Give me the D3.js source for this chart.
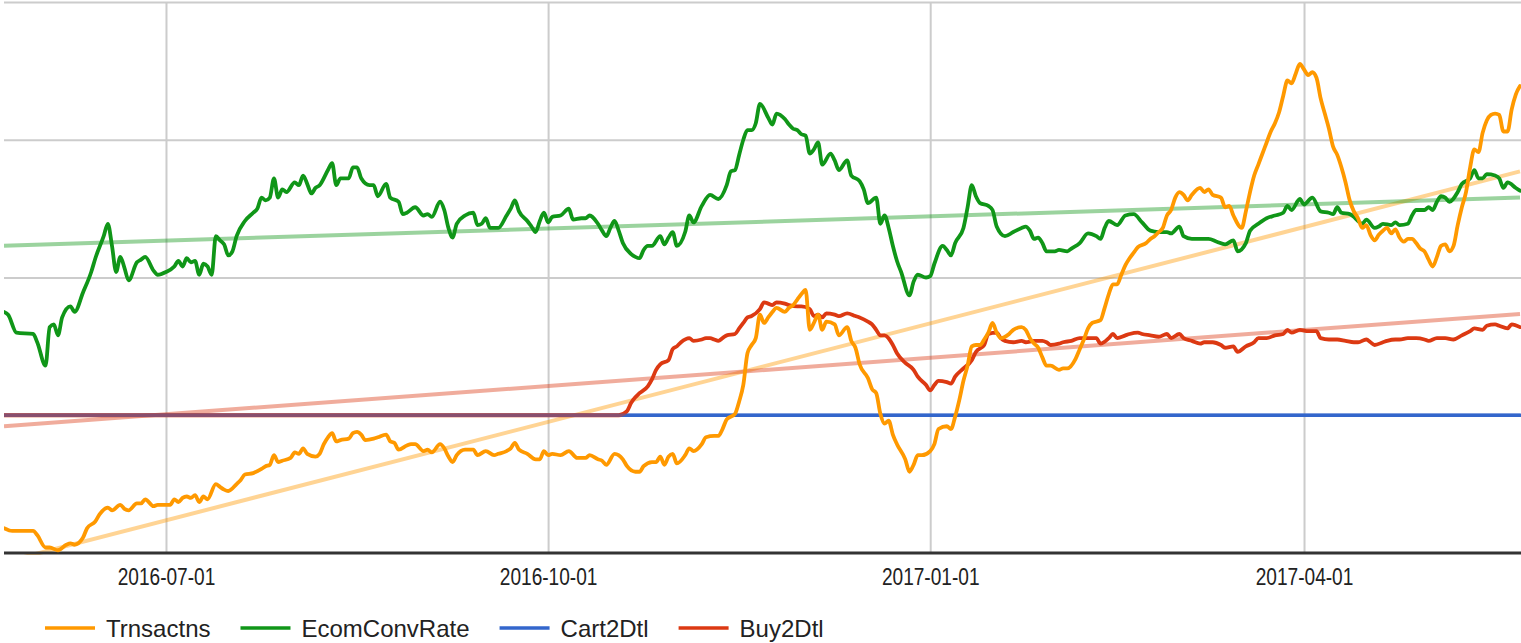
<!DOCTYPE html>
<html>
<head>
<meta charset="utf-8">
<script src="https://cdn.jsdelivr.net/npm/d3@7"></script>
<style>
  html, body { margin: 0; padding: 0; background: #ffffff; }
  svg { display: block; }
</style>
</head>
<body>
<svg id="chart" width="1521" height="643"></svg>
<script>
// ---- data: daily ratios (vertex samples), one array per series ----
const seriesNames = ["Trnsactns", "EcomConvRate", "Cart2Dtl", "Buy2Dtl"];
const seriesColors = ["#ff9900", "#109618", "#3366cc", "#dc3912"];
const xTickLabels = ["2016-07-01", "2016-10-01", "2017-01-01", "2017-04-01"];
const yGridValues = [0, 1, 2, 3, 4];
const dateSpan = ["2016-05-23", "2017-05-23"];

const trnsactns = [
  ["2016-05-23",0.18],["2016-05-25",0.16],["2016-05-30",0.16],["2016-05-31",0.13],["2016-06-02",0.04],
  ["2016-06-03",0.04],["2016-06-05",0.02],["2016-06-07",0.06],["2016-06-08",0.07],["2016-06-09",0.06],
  ["2016-06-11",0.11],["2016-06-12",0.18],["2016-06-14",0.23],["2016-06-15",0.28],["2016-06-17",0.33],
  ["2016-06-18",0.31],["2016-06-20",0.35],["2016-06-21",0.32],["2016-06-22",0.31],["2016-06-24",0.36],
  ["2016-06-25",0.36],["2016-06-26",0.39],["2016-06-28",0.34],["2016-06-29",0.35],["2016-07-01",0.35],
  ["2016-07-02",0.35],["2016-07-03",0.39],["2016-07-04",0.37],["2016-07-05",0.40],["2016-07-06",0.41],
  ["2016-07-07",0.40],["2016-07-08",0.42],["2016-07-09",0.37],["2016-07-10",0.41],["2016-07-11",0.39],
  ["2016-07-13",0.50],["2016-07-14",0.48],["2016-07-15",0.46],["2016-07-16",0.45],["2016-07-18",0.50],
  ["2016-07-19",0.53],["2016-07-20",0.57],["2016-07-22",0.58],["2016-07-24",0.61],["2016-07-25",0.63],
  ["2016-07-26",0.64],["2016-07-27",0.71],["2016-07-28",0.66],["2016-07-29",0.67],["2016-07-31",0.69],
  ["2016-08-01",0.73],["2016-08-02",0.72],["2016-08-03",0.76],["2016-08-04",0.72],["2016-08-06",0.70],
  ["2016-08-07",0.72],["2016-08-08",0.79],["2016-08-09",0.84],["2016-08-10",0.87],["2016-08-11",0.81],
  ["2016-08-12",0.82],["2016-08-14",0.83],["2016-08-15",0.87],["2016-08-16",0.88],["2016-08-17",0.86],
  ["2016-08-18",0.82],["2016-08-20",0.83],["2016-08-21",0.84],["2016-08-23",0.86],["2016-08-24",0.81],
  ["2016-08-25",0.80],["2016-08-26",0.75],["2016-08-28",0.78],["2016-08-29",0.79],["2016-08-30",0.79],
  ["2016-09-01",0.74],["2016-09-02",0.75],["2016-09-03",0.73],["2016-09-05",0.79],["2016-09-06",0.76],
  ["2016-09-07",0.70],["2016-09-08",0.66],["2016-09-09",0.71],["2016-09-11",0.75],["2016-09-13",0.75],
  ["2016-09-14",0.71],["2016-09-16",0.74],["2016-09-18",0.71],["2016-09-19",0.72],["2016-09-21",0.74],
  ["2016-09-22",0.76],["2016-09-23",0.80],["2016-09-24",0.75],["2016-09-26",0.72],["2016-09-28",0.68],
  ["2016-09-29",0.68],["2016-09-30",0.74],["2016-10-01",0.71],["2016-10-02",0.72],["2016-10-04",0.71],
  ["2016-10-06",0.74],["2016-10-08",0.69],["2016-10-10",0.69],["2016-10-11",0.71],["2016-10-13",0.68],
  ["2016-10-14",0.67],["2016-10-15",0.64],["2016-10-17",0.72],["2016-10-19",0.68],["2016-10-20",0.63],
  ["2016-10-22",0.59],["2016-10-23",0.59],["2016-10-24",0.63],["2016-10-26",0.66],["2016-10-27",0.66],
  ["2016-10-28",0.70],["2016-10-29",0.64],["2016-10-30",0.70],["2016-10-31",0.72],["2016-11-01",0.65],
  ["2016-11-03",0.71],["2016-11-04",0.76],["2016-11-05",0.74],["2016-11-07",0.79],["2016-11-08",0.84],
  ["2016-11-10",0.85],["2016-11-11",0.85],["2016-11-12",0.90],["2016-11-13",0.97],["2016-11-15",1.01],
  ["2016-11-16",1.10],["2016-11-17",1.22],["2016-11-18",1.45],["2016-11-19",1.51],["2016-11-20",1.56],
  ["2016-11-21",1.73],["2016-11-22",1.67],["2016-11-23",1.71],["2016-11-24",1.75],["2016-11-25",1.78],
  ["2016-11-27",1.75],["2016-11-28",1.78],["2016-11-29",1.80],["2016-11-30",1.84],["2016-12-01",1.88],
  ["2016-12-02",1.91],["2016-12-03",1.62],["2016-12-04",1.67],["2016-12-05",1.73],["2016-12-06",1.62],
  ["2016-12-07",1.68],["2016-12-09",1.66],["2016-12-10",1.58],["2016-12-12",1.64],["2016-12-13",1.54],
  ["2016-12-14",1.49],["2016-12-15",1.37],["2016-12-17",1.27],["2016-12-18",1.19],["2016-12-19",1.16],
  ["2016-12-20",1.01],["2016-12-21",0.94],["2016-12-22",0.96],["2016-12-23",0.86],["2016-12-24",0.79],
  ["2016-12-26",0.68],["2016-12-27",0.59],["2016-12-28",0.64],["2016-12-29",0.71],["2016-12-30",0.71],
  ["2017-01-01",0.74],["2017-01-02",0.79],["2017-01-03",0.90],["2017-01-05",0.92],["2017-01-06",0.90],
  ["2017-01-07",0.99],["2017-01-08",1.11],["2017-01-09",1.25],["2017-01-10",1.36],["2017-01-11",1.50],
  ["2017-01-12",1.51],["2017-01-13",1.51],["2017-01-14",1.55],["2017-01-15",1.60],["2017-01-16",1.67],
  ["2017-01-17",1.60],["2017-01-18",1.56],["2017-01-20",1.59],["2017-01-21",1.62],["2017-01-23",1.64],
  ["2017-01-24",1.62],["2017-01-25",1.56],["2017-01-26",1.52],["2017-01-27",1.49],["2017-01-28",1.42],
  ["2017-01-29",1.36],["2017-01-30",1.36],["2017-02-01",1.33],["2017-02-02",1.34],["2017-02-03",1.34],
  ["2017-02-05",1.41],["2017-02-06",1.48],["2017-02-07",1.55],["2017-02-08",1.63],["2017-02-09",1.67],
  ["2017-02-11",1.69],["2017-02-12",1.78],["2017-02-13",1.88],["2017-02-14",1.95],["2017-02-15",1.95],
  ["2017-02-16",2.02],["2017-02-17",2.09],["2017-02-18",2.14],["2017-02-19",2.18],["2017-02-20",2.22],
  ["2017-02-22",2.25],["2017-02-23",2.28],["2017-02-24",2.30],["2017-02-25",2.33],["2017-02-26",2.36],
  ["2017-02-27",2.45],["2017-02-28",2.49],["2017-03-01",2.58],["2017-03-02",2.62],["2017-03-03",2.60],
  ["2017-03-04",2.56],["2017-03-05",2.60],["2017-03-07",2.65],["2017-03-08",2.62],["2017-03-09",2.64],
  ["2017-03-10",2.60],["2017-03-12",2.58],["2017-03-13",2.51],["2017-03-14",2.52],["2017-03-15",2.45],
  ["2017-03-17",2.36],["2017-03-18",2.48],["2017-03-19",2.62],["2017-03-20",2.74],["2017-03-21",2.82],
  ["2017-03-22",2.90],["2017-03-23",2.98],["2017-03-24",3.06],["2017-03-25",3.12],["2017-03-26",3.20],
  ["2017-03-27",3.32],["2017-03-28",3.43],["2017-03-29",3.41],["2017-03-30",3.48],["2017-03-31",3.55],
  ["2017-04-01",3.51],["2017-04-02",3.47],["2017-04-03",3.49],["2017-04-04",3.45],["2017-04-05",3.30],
  ["2017-04-06",3.19],["2017-04-07",3.08],["2017-04-08",2.95],["2017-04-09",2.89],["2017-04-10",2.80],
  ["2017-04-11",2.69],["2017-04-12",2.56],["2017-04-13",2.48],["2017-04-14",2.43],["2017-04-15",2.36],
  ["2017-04-16",2.38],["2017-04-17",2.31],["2017-04-18",2.27],["2017-04-19",2.31],["2017-04-20",2.34],
  ["2017-04-21",2.36],["2017-04-22",2.32],["2017-04-23",2.35],["2017-04-24",2.29],["2017-04-25",2.26],
  ["2017-04-26",2.28],["2017-04-27",2.28],["2017-04-28",2.25],["2017-04-29",2.21],["2017-04-30",2.19],
  ["2017-05-01",2.13],["2017-05-02",2.08],["2017-05-03",2.15],["2017-05-04",2.23],["2017-05-05",2.24],
  ["2017-05-06",2.19],["2017-05-07",2.23],["2017-05-08",2.38],["2017-05-09",2.51],["2017-05-10",2.62],
  ["2017-05-11",2.80],["2017-05-12",2.93],["2017-05-13",2.91],["2017-05-14",3.05],["2017-05-15",3.14],
  ["2017-05-16",3.18],["2017-05-17",3.19],["2017-05-18",3.18],["2017-05-19",3.06],["2017-05-20",3.06],
  ["2017-05-21",3.22],["2017-05-22",3.33],["2017-05-23",3.39]
];

const ecomConvRate = [
  ["2016-05-23",1.75],["2016-05-24",1.73],["2016-05-26",1.60],["2016-05-30",1.59],["2016-05-31",1.53],
  ["2016-06-02",1.36],["2016-06-03",1.64],["2016-06-04",1.66],["2016-06-05",1.58],["2016-06-06",1.71],
  ["2016-06-08",1.79],["2016-06-09",1.75],["2016-06-11",1.89],["2016-06-13",2.04],["2016-06-14",2.14],
  ["2016-06-16",2.30],["2016-06-17",2.39],["2016-06-18",2.23],["2016-06-19",2.04],["2016-06-20",2.15],
  ["2016-06-21",2.07],["2016-06-22",1.98],["2016-06-24",2.11],["2016-06-25",2.13],["2016-06-26",2.15],
  ["2016-06-28",2.05],["2016-06-29",2.02],["2016-07-01",2.04],["2016-07-03",2.08],["2016-07-04",2.12],
  ["2016-07-05",2.08],["2016-07-06",2.14],["2016-07-07",2.11],["2016-07-08",2.12],["2016-07-09",2.02],
  ["2016-07-10",2.10],["2016-07-11",2.08],["2016-07-12",2.02],["2016-07-13",2.30],["2016-07-14",2.27],
  ["2016-07-15",2.24],["2016-07-16",2.16],["2016-07-17",2.19],["2016-07-18",2.30],["2016-07-20",2.41],
  ["2016-07-22",2.47],["2016-07-23",2.50],["2016-07-24",2.58],["2016-07-25",2.56],["2016-07-26",2.58],
  ["2016-07-27",2.72],["2016-07-28",2.58],["2016-07-29",2.64],["2016-07-30",2.62],["2016-08-01",2.69],
  ["2016-08-02",2.67],["2016-08-03",2.74],["2016-08-04",2.68],["2016-08-05",2.61],["2016-08-06",2.65],
  ["2016-08-07",2.67],["2016-08-09",2.78],["2016-08-10",2.83],["2016-08-11",2.67],["2016-08-12",2.72],
  ["2016-08-14",2.72],["2016-08-15",2.80],["2016-08-16",2.80],["2016-08-17",2.72],["2016-08-19",2.67],
  ["2016-08-20",2.67],["2016-08-21",2.59],["2016-08-23",2.68],["2016-08-24",2.58],["2016-08-26",2.55],
  ["2016-08-27",2.46],["2016-08-28",2.47],["2016-08-30",2.51],["2016-09-01",2.45],["2016-09-02",2.46],
  ["2016-09-03",2.44],["2016-09-05",2.55],["2016-09-06",2.49],["2016-09-07",2.36],["2016-09-08",2.29],
  ["2016-09-09",2.39],["2016-09-11",2.45],["2016-09-13",2.47],["2016-09-14",2.38],["2016-09-15",2.39],
  ["2016-09-16",2.43],["2016-09-17",2.36],["2016-09-19",2.36],["2016-09-21",2.45],["2016-09-22",2.50],
  ["2016-09-23",2.56],["2016-09-24",2.48],["2016-09-26",2.41],["2016-09-27",2.37],["2016-09-28",2.33],
  ["2016-09-29",2.41],["2016-09-30",2.47],["2016-10-01",2.40],["2016-10-02",2.44],["2016-10-04",2.45],
  ["2016-10-06",2.50],["2016-10-07",2.42],["2016-10-09",2.43],["2016-10-10",2.43],["2016-10-11",2.45],
  ["2016-10-13",2.39],["2016-10-14",2.34],["2016-10-15",2.30],["2016-10-16",2.36],["2016-10-17",2.41],
  ["2016-10-18",2.34],["2016-10-19",2.25],["2016-10-21",2.17],["2016-10-22",2.15],["2016-10-23",2.14],
  ["2016-10-24",2.20],["2016-10-25",2.23],["2016-10-26",2.23],["2016-10-28",2.30],["2016-10-29",2.24],
  ["2016-10-30",2.29],["2016-10-31",2.33],["2016-11-01",2.23],["2016-11-03",2.33],["2016-11-04",2.45],
  ["2016-11-05",2.40],["2016-11-07",2.52],["2016-11-09",2.60],["2016-11-11",2.57],["2016-11-13",2.67],
  ["2016-11-14",2.77],["2016-11-15",2.78],["2016-11-16",2.89],["2016-11-17",3.00],["2016-11-18",3.07],
  ["2016-11-19",3.07],["2016-11-20",3.12],["2016-11-21",3.26],["2016-11-23",3.16],["2016-11-24",3.11],
  ["2016-11-25",3.19],["2016-11-27",3.15],["2016-11-28",3.11],["2016-11-29",3.08],["2016-11-30",3.07],
  ["2016-12-01",3.04],["2016-12-02",3.03],["2016-12-03",2.90],["2016-12-04",2.93],["2016-12-05",2.98],
  ["2016-12-06",2.82],["2016-12-08",2.90],["2016-12-09",2.85],["2016-12-10",2.78],["2016-12-12",2.85],
  ["2016-12-13",2.74],["2016-12-15",2.70],["2016-12-16",2.64],["2016-12-17",2.54],["2016-12-19",2.58],
  ["2016-12-20",2.39],["2016-12-21",2.45],["2016-12-22",2.36],["2016-12-23",2.23],["2016-12-24",2.12],
  ["2016-12-25",2.04],["2016-12-27",1.87],["2016-12-28",1.97],["2016-12-29",2.02],["2016-12-31",2.00],
  ["2017-01-01",2.01],["2017-01-02",2.10],["2017-01-04",2.23],["2017-01-05",2.20],["2017-01-06",2.16],
  ["2017-01-07",2.25],["2017-01-09",2.36],["2017-01-10",2.51],["2017-01-11",2.67],["2017-01-12",2.59],
  ["2017-01-13",2.54],["2017-01-15",2.52],["2017-01-16",2.49],["2017-01-17",2.37],["2017-01-19",2.30],
  ["2017-01-21",2.33],["2017-01-23",2.36],["2017-01-24",2.37],["2017-01-25",2.34],["2017-01-26",2.28],
  ["2017-01-27",2.29],["2017-01-28",2.25],["2017-01-29",2.19],["2017-01-31",2.19],["2017-02-01",2.20],
  ["2017-02-03",2.19],["2017-02-04",2.21],["2017-02-06",2.25],["2017-02-08",2.32],["2017-02-10",2.30],
  ["2017-02-11",2.28],["2017-02-12",2.36],["2017-02-13",2.41],["2017-02-15",2.38],["2017-02-17",2.45],
  ["2017-02-19",2.46],["2017-02-21",2.40],["2017-02-23",2.34],["2017-02-25",2.33],["2017-02-27",2.33],
  ["2017-02-28",2.32],["2017-03-02",2.37],["2017-03-03",2.30],["2017-03-05",2.28],["2017-03-07",2.28],
  ["2017-03-09",2.28],["2017-03-11",2.26],["2017-03-13",2.24],["2017-03-15",2.27],["2017-03-16",2.19],
  ["2017-03-18",2.25],["2017-03-19",2.34],["2017-03-21",2.39],["2017-03-23",2.43],["2017-03-25",2.45],
  ["2017-03-27",2.47],["2017-03-28",2.52],["2017-03-29",2.49],["2017-03-31",2.57],["2017-04-01",2.53],
  ["2017-04-03",2.58],["2017-04-05",2.48],["2017-04-07",2.47],["2017-04-08",2.46],["2017-04-09",2.51],
  ["2017-04-10",2.47],["2017-04-12",2.46],["2017-04-13",2.44],["2017-04-14",2.41],["2017-04-15",2.39],
  ["2017-04-16",2.42],["2017-04-18",2.36],["2017-04-19",2.37],["2017-04-20",2.39],["2017-04-22",2.38],
  ["2017-04-23",2.40],["2017-04-24",2.38],["2017-04-26",2.39],["2017-04-27",2.45],["2017-04-28",2.49],
  ["2017-04-30",2.49],["2017-05-01",2.51],["2017-05-02",2.49],["2017-05-03",2.55],["2017-05-04",2.59],
  ["2017-05-05",2.58],["2017-05-06",2.55],["2017-05-08",2.62],["2017-05-09",2.68],["2017-05-11",2.72],
  ["2017-05-12",2.78],["2017-05-13",2.72],["2017-05-14",2.72],["2017-05-15",2.75],["2017-05-17",2.74],
  ["2017-05-18",2.72],["2017-05-19",2.65],["2017-05-20",2.69],["2017-05-22",2.65],["2017-05-23",2.63]
];

const cart2Dtl = [["2016-05-23",1.00],["2017-05-23",1.00]];

const buy2Dtl = [
  ["2016-05-23",1.00],["2016-10-18",1.00],["2016-10-20",1.03],["2016-10-21",1.09],["2016-10-22",1.13],
  ["2016-10-23",1.16],["2016-10-25",1.21],["2016-10-26",1.26],["2016-10-27",1.33],["2016-10-28",1.37],
  ["2016-10-30",1.40],["2016-10-31",1.48],["2016-11-01",1.50],["2016-11-02",1.53],["2016-11-04",1.56],
  ["2016-11-05",1.54],["2016-11-07",1.55],["2016-11-08",1.56],["2016-11-09",1.56],["2016-11-10",1.55],
  ["2016-11-11",1.54],["2016-11-12",1.56],["2016-11-13",1.58],["2016-11-15",1.59],["2016-11-16",1.63],
  ["2016-11-17",1.67],["2016-11-18",1.71],["2016-11-19",1.72],["2016-11-21",1.77],["2016-11-22",1.82],
  ["2016-11-23",1.81],["2016-11-24",1.80],["2016-11-25",1.82],["2016-11-27",1.81],["2016-11-28",1.80],
  ["2016-11-30",1.79],["2016-12-01",1.79],["2016-12-03",1.77],["2016-12-04",1.72],["2016-12-05",1.73],
  ["2016-12-06",1.71],["2016-12-07",1.74],["2016-12-09",1.73],["2016-12-10",1.72],["2016-12-12",1.74],
  ["2016-12-14",1.72],["2016-12-15",1.71],["2016-12-17",1.68],["2016-12-18",1.66],["2016-12-19",1.62],
  ["2016-12-20",1.58],["2016-12-21",1.58],["2016-12-23",1.51],["2016-12-24",1.45],["2016-12-26",1.38],
  ["2016-12-28",1.33],["2016-12-29",1.28],["2016-12-31",1.22],["2017-01-01",1.18],["2017-01-02",1.22],
  ["2017-01-03",1.25],["2017-01-05",1.24],["2017-01-06",1.23],["2017-01-07",1.28],["2017-01-09",1.34],
  ["2017-01-11",1.40],["2017-01-12",1.46],["2017-01-14",1.51],["2017-01-15",1.59],["2017-01-17",1.60],
  ["2017-01-18",1.56],["2017-01-19",1.54],["2017-01-21",1.53],["2017-01-23",1.54],["2017-01-24",1.53],
  ["2017-01-26",1.54],["2017-01-28",1.54],["2017-01-29",1.53],["2017-01-30",1.51],["2017-02-01",1.52],
  ["2017-02-02",1.53],["2017-02-04",1.54],["2017-02-06",1.56],["2017-02-08",1.56],["2017-02-10",1.56],
  ["2017-02-11",1.52],["2017-02-13",1.56],["2017-02-14",1.59],["2017-02-15",1.56],["2017-02-17",1.58],
  ["2017-02-18",1.59],["2017-02-20",1.60],["2017-02-21",1.59],["2017-02-23",1.58],["2017-02-25",1.57],
  ["2017-02-27",1.59],["2017-02-28",1.56],["2017-03-02",1.59],["2017-03-03",1.56],["2017-03-05",1.54],
  ["2017-03-07",1.52],["2017-03-08",1.53],["2017-03-10",1.53],["2017-03-12",1.51],["2017-03-13",1.49],
  ["2017-03-15",1.50],["2017-03-16",1.46],["2017-03-18",1.50],["2017-03-20",1.53],["2017-03-21",1.56],
  ["2017-03-23",1.56],["2017-03-25",1.58],["2017-03-27",1.59],["2017-03-28",1.62],["2017-03-29",1.60],
  ["2017-03-31",1.62],["2017-04-02",1.61],["2017-04-04",1.61],["2017-04-05",1.56],["2017-04-07",1.55],
  ["2017-04-09",1.55],["2017-04-11",1.54],["2017-04-13",1.53],["2017-04-14",1.53],["2017-04-16",1.55],
  ["2017-04-17",1.53],["2017-04-18",1.51],["2017-04-20",1.53],["2017-04-21",1.54],["2017-04-23",1.55],
  ["2017-04-24",1.55],["2017-04-26",1.56],["2017-04-28",1.56],["2017-04-30",1.55],["2017-05-01",1.54],
  ["2017-05-03",1.56],["2017-05-05",1.56],["2017-05-07",1.55],["2017-05-09",1.58],["2017-05-11",1.61],
  ["2017-05-12",1.63],["2017-05-14",1.62],["2017-05-15",1.65],["2017-05-17",1.66],["2017-05-18",1.65],
  ["2017-05-20",1.63],["2017-05-21",1.66],["2017-05-23",1.64]
];

// linear trendlines: value at the first and at the last date of the span
const trendSeries = ["Trnsactns", "EcomConvRate", "Buy2Dtl"];
const trendFirst = [-0.066, 2.23, 0.92];
const trendLast = [2.77, 2.58, 1.735];

// ---- layout ----
const W = 1521, H = 643;
const plot = { left: 4, right: 1520, top: 2, bottom: 553 };
const parse = d3.timeParse("%Y-%m-%d");
const fmt = d3.timeFormat("%Y-%m-%d");

const x = d3.scaleTime()
  .domain(dateSpan.map(parse))
  .range([plot.left, plot.right]);
const y = d3.scaleLinear()
  .domain([0, 4])
  .range([plot.bottom, plot.top]);

const svg = d3.select("#chart");

svg.append("defs").append("clipPath").attr("id", "plot-clip")
  .append("rect")
  .attr("x", plot.left).attr("y", 0)
  .attr("width", W - plot.left).attr("height", plot.bottom + 2);

// horizontal gridlines
const yGrid = svg.append("g")
  .attr("transform", `translate(${plot.left},0)`)
  .call(d3.axisLeft(y).tickValues(yGridValues.filter(v => v > 0))
    .tickSize(-(W - plot.left)).tickFormat(""));
yGrid.select(".domain").remove();
yGrid.selectAll("line").attr("stroke", "#cccccc").attr("stroke-width", 2);

// vertical gridlines at the quarter starts
const tickDates = xTickLabels.map(parse);
const xGrid = svg.append("g")
  .attr("transform", `translate(0,${plot.bottom})`)
  .call(d3.axisBottom(x).tickValues(tickDates)
    .tickSize(-(plot.bottom - plot.top)).tickFormat(""));
xGrid.select(".domain").remove();
xGrid.selectAll("line").attr("stroke", "#cccccc").attr("stroke-width", 2);

// trendlines
const straight = d3.line()
  .x(d => x(d[0]))
  .y(d => y(d[1]));

const trendLayer = svg.append("g").attr("clip-path", "url(#plot-clip)");
trendSeries.forEach((name, i) => {
  const color = seriesColors[seriesNames.indexOf(name)];
  trendLayer.append("path")
    .datum([[x.domain()[0], trendFirst[i]], [x.domain()[1], trendLast[i]]])
    .attr("d", straight)
    .attr("fill", "none")
    .attr("stroke", color)
    .attr("stroke-opacity", 0.42)
    .attr("stroke-width", 4);
});

// baseline
svg.append("line")
  .attr("x1", plot.left).attr("x2", W)
  .attr("y1", y(0)).attr("y2", y(0))
  .attr("stroke", "#333333").attr("stroke-width", 3);

// series lines
const seriesData = {
  Trnsactns: trnsactns,
  EcomConvRate: ecomConvRate,
  Cart2Dtl: cart2Dtl,
  Buy2Dtl: buy2Dtl
};
const parsed = {};
seriesNames.forEach(n => { parsed[n] = seriesData[n].map(([d, v]) => [parse(d), v]); });

const smooth = d3.line()
  .x(d => x(d[0]))
  .y(d => y(d[1]))
  .curve(d3.curveMonotoneX);

const lineLayer = svg.append("g").attr("clip-path", "url(#plot-clip)");
function drawSeries(name, opacity, width) {
  lineLayer.append("path")
    .datum(parsed[name])
    .attr("d", smooth)
    .attr("fill", "none")
    .attr("stroke", seriesColors[seriesNames.indexOf(name)])
    .attr("stroke-opacity", opacity)
    .attr("stroke-width", width)
    .attr("stroke-linejoin", "round")
    .attr("stroke-linecap", "round");
}
drawSeries("Cart2Dtl", 1, 3.6);
drawSeries("Buy2Dtl", 1, 3.8);
// half-opacity pass so the stretch shared by Cart2Dtl and Buy2Dtl reads as a blend
drawSeries("Cart2Dtl", 0.5, 3.6);
drawSeries("EcomConvRate", 1, 3.8);
drawSeries("Trnsactns", 1, 3.8);

// x-axis labels (narrow set)
const xLabels = svg.append("g")
  .attr("transform", `translate(0,${plot.bottom})`)
  .call(d3.axisBottom(x).tickValues(tickDates).tickSize(0).tickFormat(fmt));
xLabels.select(".domain").remove();
xLabels.selectAll("text")
  .attr("y", 32).attr("dy", 0)
  .attr("fill", "#222222")
  .style("font-family", "'Liberation Sans', Arial, sans-serif")
  .style("font-size", "23px")
  .each(function () {
    const natural = this.getComputedTextLength();
    d3.select(this)
      .attr("textLength", natural * 0.83)
      .attr("lengthAdjust", "spacingAndGlyphs");
  });

// legend
const legend = svg.append("g");
let lx = 45;
const swatchLen = 50, swatchGap = 11, itemGap = 30, legendBase = 637;
seriesNames.forEach((name, i) => {
  legend.append("line")
    .attr("x1", lx).attr("x2", lx + swatchLen)
    .attr("y1", legendBase - 9).attr("y2", legendBase - 9)
    .attr("stroke", seriesColors[i]).attr("stroke-width", 3.5);
  const t = legend.append("text")
    .attr("x", lx + swatchLen + swatchGap)
    .attr("y", legendBase)
    .attr("fill", "#222222")
    .style("font-family", "'Liberation Sans', Arial, sans-serif")
    .style("font-size", "24px")
    .text(name);
  lx += swatchLen + swatchGap + t.node().getComputedTextLength() + itemGap;
});
</script>
</body>
</html>
